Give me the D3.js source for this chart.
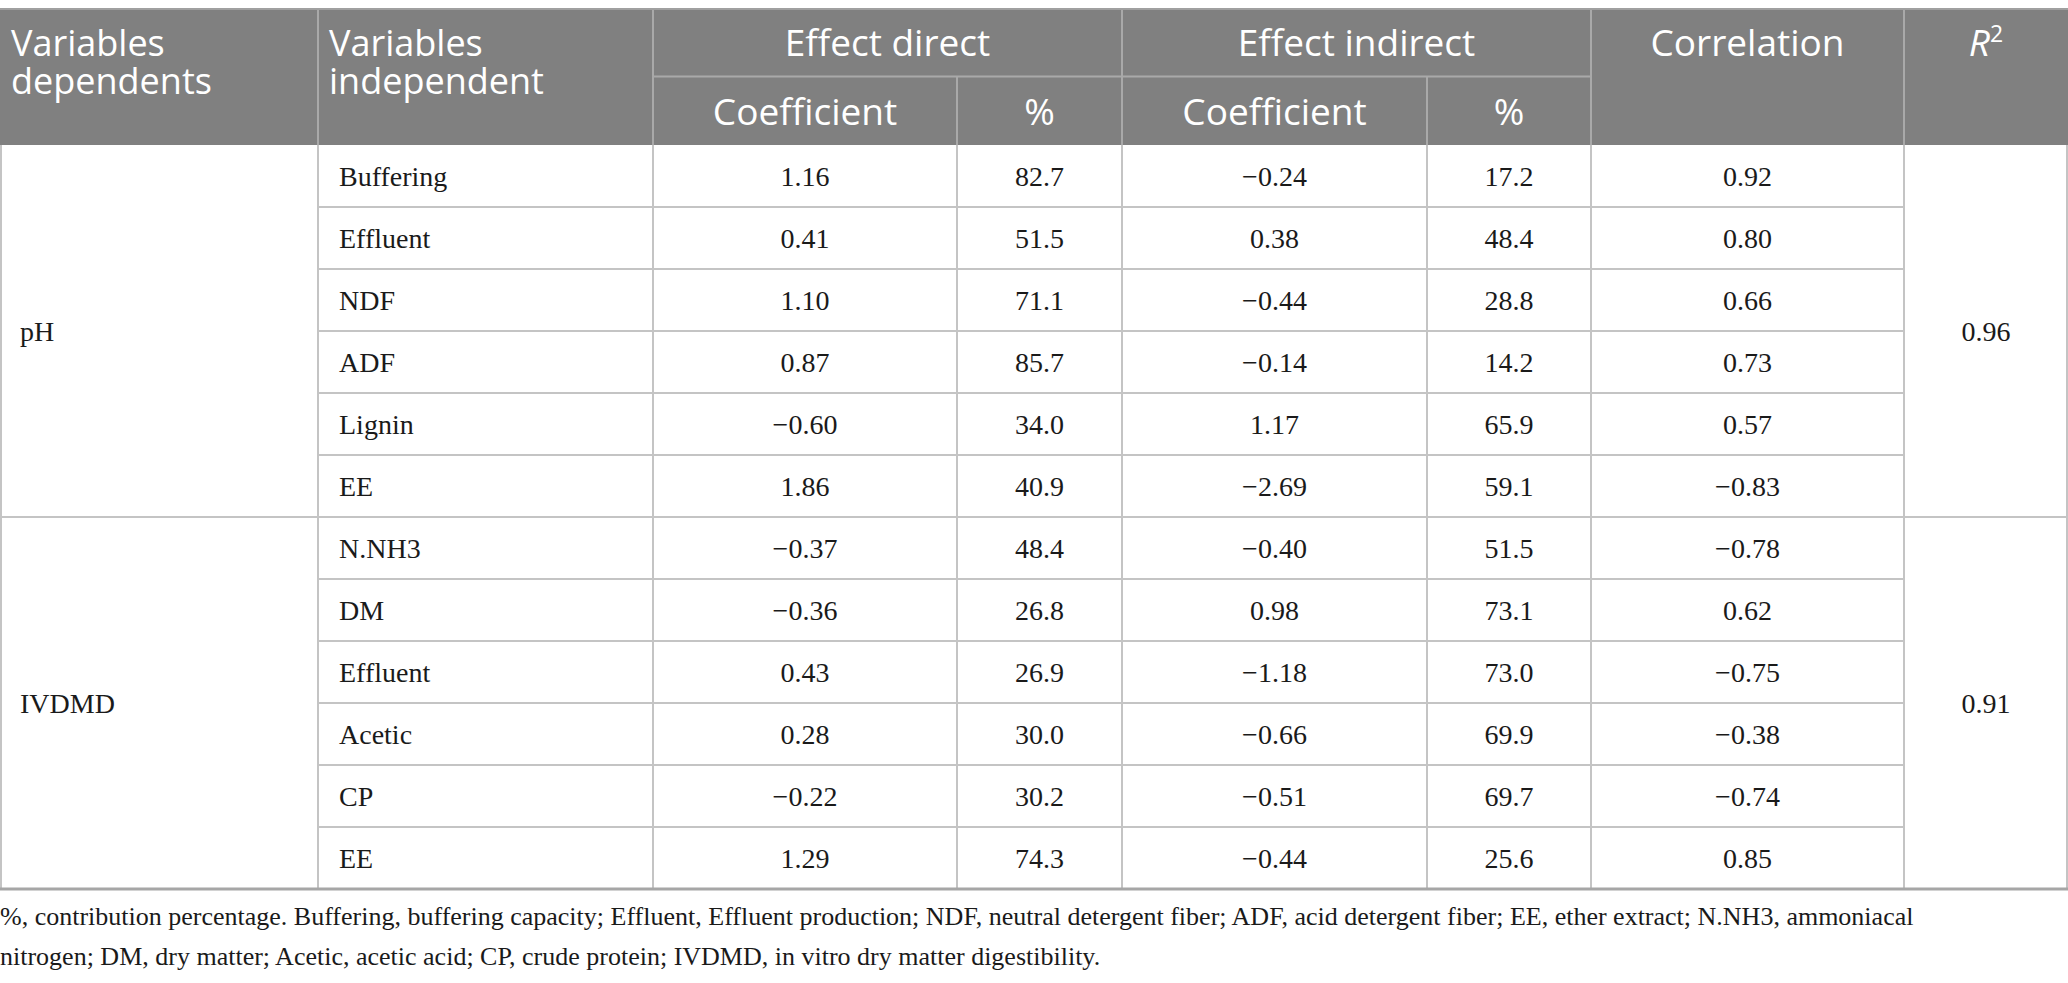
<!DOCTYPE html>
<html>
<head>
<meta charset="utf-8">
<script src="https://cdn.jsdelivr.net/npm/d3@7"></script>
<style>
  body { margin: 0; background: #fff; }
</style>
</head>
<body>
<script>
const width = 2068, height = 983;

// table data
const dependents = ["pH", "IVDMD"];
const r2Values = ["0.96", "0.91"];
const groupSizes = [6, 6];
const independents = ["Buffering", "Effluent", "NDF", "ADF", "Lignin", "EE",
                      "N.NH3", "DM", "Effluent", "Acetic", "CP", "EE"];
const directCoef = ["1.16", "0.41", "1.10", "0.87", "\u22120.60", "1.86",
                    "\u22120.37", "\u22120.36", "0.43", "0.28", "\u22120.22", "1.29"];
const directPct = ["82.7", "51.5", "71.1", "85.7", "34.0", "40.9",
                   "48.4", "26.8", "26.9", "30.0", "30.2", "74.3"];
const indirectCoef = ["\u22120.24", "0.38", "\u22120.44", "\u22120.14", "1.17", "\u22122.69",
                      "\u22120.40", "0.98", "\u22121.18", "\u22120.66", "\u22120.51", "\u22120.44"];
const indirectPct = ["17.2", "48.4", "28.8", "14.2", "65.9", "59.1",
                     "51.5", "73.1", "73.0", "69.9", "69.7", "25.6"];
const correlation = ["0.92", "0.80", "0.66", "0.73", "0.57", "\u22120.83",
                     "\u22120.78", "0.62", "\u22120.75", "\u22120.38", "\u22120.74", "0.85"];
const footnote = [
  "%, contribution percentage. Buffering, buffering capacity; Effluent, Effluent production; NDF, neutral detergent fiber; ADF, acid detergent fiber; EE, ether extract; N.NH3, ammoniacal",
  "nitrogen; DM, dry matter; Acetic, acetic acid; CP, crude protein; IVDMD, in vitro dry matter digestibility."
];

// layout
const colEdges = [0, 318, 653, 957, 1122, 1427, 1591, 1904, 2068];
const headTop = 9, headMid = 76.5, headBottom = 145, tableBottom = 889;
const headFont = "'Open Sans', sans-serif", bodyFont = "'Liberation Serif', serif";
const gridColor = "#c4c4c4", headLine = "#a9a9a9", headFill = "#808080";

const svg = d3.select("body").append("svg").attr("width", width).attr("height", height);

const y = d3.scaleBand().domain(d3.range(independents.length)).range([headBottom, tableBottom]);
const colMid = i => (colEdges[i] + colEdges[i + 1]) / 2;

// header background
svg.append("rect").attr("x", 0).attr("y", headTop).attr("width", width).attr("height", headBottom - headTop)
  .attr("fill", headFill);

// header lines
svg.selectAll("line.hv").data([1, 2, 4, 6, 7]).enter().append("line")
  .attr("x1", d => colEdges[d]).attr("x2", d => colEdges[d])
  .attr("y1", headTop).attr("y2", headBottom)
  .attr("stroke", headLine).attr("stroke-width", 2);
svg.selectAll("line.hv2").data([3, 5]).enter().append("line")
  .attr("x1", d => colEdges[d]).attr("x2", d => colEdges[d])
  .attr("y1", headMid).attr("y2", headBottom)
  .attr("stroke", headLine).attr("stroke-width", 2);
svg.append("line").attr("x1", colEdges[2]).attr("x2", colEdges[6])
  .attr("y1", headMid).attr("y2", headMid)
  .attr("stroke", headLine).attr("stroke-width", 2);
svg.append("line").attr("x1", 0).attr("x2", width).attr("y1", headTop).attr("y2", headTop)
  .attr("stroke", "#a0a0a0").attr("stroke-width", 2);

// header texts
const hdr = svg.append("g").attr("fill", "#fff").attr("font-family", headFont).attr("font-size", 37);
[["Variables", "dependents", 0], ["Variables", "independent", 1]].forEach(([a, b, c]) => {
  const t = hdr.append("text").attr("y", 43).attr("font-size", 36);
  t.append("tspan").attr("x", colEdges[c] + 11).attr("dy", "0.35em").text(a);
  t.append("tspan").attr("x", colEdges[c] + 11).attr("dy", 38.5).text(b);
});
hdr.append("text").attr("x", (colEdges[2] + colEdges[4]) / 2).attr("y", 43).attr("dy", "0.35em")
  .attr("text-anchor", "middle").text("Effect direct");
hdr.append("text").attr("x", (colEdges[4] + colEdges[6]) / 2).attr("y", 43).attr("dy", "0.35em")
  .attr("text-anchor", "middle").text("Effect indirect");
hdr.append("text").attr("x", colMid(6)).attr("y", 43).attr("dy", "0.35em")
  .attr("text-anchor", "middle").text("Correlation");
const r2t = hdr.append("text").attr("x", colMid(7)).attr("y", 43).attr("dy", "0.35em")
  .attr("text-anchor", "middle");
r2t.append("tspan").attr("font-style", "italic").text("R");
r2t.append("tspan").attr("font-size", 23).attr("dy", "-0.6em").text("2");
[2, 4].forEach(c => {
  hdr.append("text").attr("x", colMid(c)).attr("y", 112).attr("dy", "0.35em")
    .attr("text-anchor", "middle").text("Coefficient");
  hdr.append("text").attr("x", colMid(c + 1)).attr("y", 112).attr("dy", "0.35em")
    .attr("text-anchor", "middle").text("%");
});

// body grid: row lines inside cols 1-6, group lines across the full width
const groupStarts = d3.cumsum([0, ...groupSizes]);
svg.selectAll("line.row").data(d3.range(1, independents.length)).enter().append("line")
  .attr("x1", d => groupStarts.includes(d) ? 0 : colEdges[1])
  .attr("x2", d => groupStarts.includes(d) ? width : colEdges[7])
  .attr("y1", d => y(d)).attr("y2", d => y(d))
  .attr("stroke", gridColor).attr("stroke-width", 2);
svg.selectAll("line.col").data(colEdges).enter().append("line")
  .attr("x1", d => d === width ? d - 1 : d === 0 ? 1 : d).attr("x2", d => d === width ? d - 1 : d === 0 ? 1 : d)
  .attr("y1", headBottom).attr("y2", tableBottom)
  .attr("stroke", gridColor).attr("stroke-width", 2);
svg.append("line").attr("x1", 0).attr("x2", width).attr("y1", tableBottom).attr("y2", tableBottom)
  .attr("stroke", "#a6a6a6").attr("stroke-width", 3);

// body text
const body = svg.append("g").attr("font-family", bodyFont).attr("font-size", 28).attr("fill", "#1a1a1a");
const cols = [directCoef, directPct, indirectCoef, indirectPct, correlation];
independents.forEach((d, i) => {
  const cy = y(i) + y.bandwidth() / 2;
  body.append("text").attr("x", colEdges[1] + 21).attr("y", cy).attr("dy", "0.35em").text(d);
  cols.forEach((arr, j) => {
    body.append("text").attr("x", colMid(j + 2)).attr("y", cy).attr("dy", "0.35em")
      .attr("text-anchor", "middle").text(arr[i]);
  });
});
dependents.forEach((d, g) => {
  const y0 = y(groupStarts[g]), y1 = y(groupStarts[g + 1] - 1) + y.bandwidth();
  const cy = (y0 + y1) / 2;
  body.append("text").attr("x", 20).attr("y", cy).attr("dy", "0.35em").text(d);
  body.append("text").attr("x", colMid(7)).attr("y", cy).attr("dy", "0.35em")
    .attr("text-anchor", "middle").text(r2Values[g]);
});

// footnote
svg.selectAll("text.note").data(footnote).enter().append("text")
  .attr("class", "note")
  .attr("x", 0).attr("y", (d, i) => 916 + i * 40).attr("dy", "0.35em")
  .attr("font-family", bodyFont).attr("font-size", 26).attr("fill", "#1a1a1a")
  .text(d => d);
</script>
</body>
</html>
